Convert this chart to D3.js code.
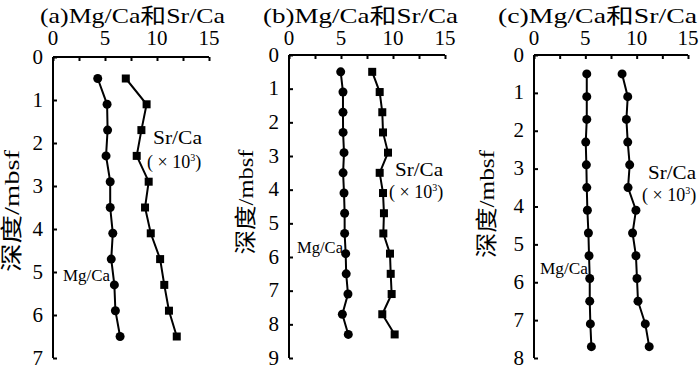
<!DOCTYPE html>
<html><head><meta charset="utf-8">
<script src="https://cdn.jsdelivr.net/npm/d3@7"></script>
<style>body{margin:0;background:#fff}svg{display:block}</style>
</head><body><svg id="c" width="700" height="368"></svg>
<script>
const panelTitles = ["(a)Mg/Ca和Sr/Ca", "(b)Mg/Ca和Sr/Ca", "(c)Mg/Ca和Sr/Ca"];
const yLabel = "深度/mbsf";
const xTickValues = [0, 2.5, 5, 7.5, 10, 12.5, 15];
const xTickLabels = [0, 5, 10, 15];
const depthMaxes = [7, 9, 8];

const depthA = [0.5, 1.1, 1.7, 2.3, 2.9, 3.5, 4.1, 4.7, 5.3, 5.9, 6.5];
const mgA = [4.3, 5.2, 5.25, 5.1, 5.5, 5.5, 5.75, 5.6, 5.9, 6.0, 6.45];
const srA = [7.0, 9.0, 8.5, 8.05, 9.2, 8.85, 9.4, 10.3, 10.7, 11.15, 11.9];

const depthB = [0.5, 1.1, 1.7, 2.3, 2.9, 3.5, 4.1, 4.7, 5.3, 5.9, 6.5, 7.1, 7.7, 8.3];
const mgB = [4.97, 5.19, 5.19, 5.2, 5.29, 5.2, 5.29, 5.35, 5.35, 5.45, 5.5, 5.67, 5.13, 5.7];
const srB = [8.0, 8.72, 8.97, 9.04, 9.52, 8.72, 9.04, 9.13, 9.07, 9.71, 9.78, 9.87, 8.97, 10.16];

const depthC = [0.5, 1.1, 1.7, 2.3, 2.9, 3.5, 4.1, 4.7, 5.3, 5.9, 6.5, 7.1, 7.7];
const mgC = [5.14, 5.14, 5.14, 5.04, 5.1, 5.14, 5.2, 5.3, 5.36, 5.43, 5.43, 5.49, 5.59];
const srC = [8.58, 9.13, 9.0, 9.13, 9.32, 9.16, 9.93, 9.6, 9.93, 10.03, 10.13, 10.84, 11.22];

const srShapes = ["square", "square", "circle"];

const FONT = "'Liberation Serif', 'Times New Roman', 'Noto Sans CJK SC', serif";

// layout (positions only)
const layout = [
  {x0: 53, x1: 209, y0: 57, y1: 358, title: [40, 225], ylab: [19, 211, 122],
   sr: [153, 202, 138], srx: [147, 206, 162], mg: [63, 110, 275]},
  {x0: 289, x1: 445, y0: 55, y1: 358, title: [263, 458], ylab: [253, 202, 105],
   sr: [395, 443, 170], srx: [389, 448, 192], mg: [297, 343, 247]},
  {x0: 534, x1: 688, y0: 55, y1: 358, title: [498, 697], ylab: [494, 204, 108],
   sr: [648, 696, 173], srx: [642, 699, 195], mg: [540, 588, 268]}
];
const data = [
  {depth: depthA, mg: mgA, sr: srA},
  {depth: depthB, mg: mgB, sr: srB},
  {depth: depthC, mg: mgC, sr: srC}
];

const svg = d3.select("#c");
svg.append("rect").attr("width", 700).attr("height", 368).attr("fill", "#fff");

function txt(sel) { return sel.append("text").attr("font-family", FONT).attr("fill", "#000"); }

layout.forEach((L, i) => {
  const g = svg.append("g");
  const x = d3.scaleLinear().domain([0, 15]).range([L.x0, L.x1]);
  const y = d3.scaleLinear().domain([0, depthMaxes[i]]).range([L.y0, L.y1]);

  // title
  txt(g).attr("x", L.title[0]).attr("y", 23)
    .attr("font-size", 21).attr("textLength", L.title[1] - L.title[0])
    .attr("lengthAdjust", "spacingAndGlyphs").text(panelTitles[i]);

  // top axis
  const xa = g.append("g").attr("transform", `translate(0,${L.y0})`)
    .call(d3.axisTop(x).tickValues(xTickValues).tickSize(-4).tickFormat(""));
  xa.selectAll(".tick text").remove();
  xa.select(".domain").attr("stroke", "#000").attr("stroke-width", 2)
    .attr("d", `M${L.x0},0H${L.x1}`);
  xa.selectAll(".tick line").attr("stroke", "#000").attr("stroke-width", 2);
  xTickLabels.forEach(d => {
    txt(g).attr("x", x(d)).attr("y", 45).attr("text-anchor", "middle")
      .attr("font-size", 21).text(d);
  });

  // left axis
  const yticks = d3.range(0, depthMaxes[i] + 1);
  const ya = g.append("g").attr("transform", `translate(${L.x0},0)`)
    .call(d3.axisLeft(y).tickValues(yticks).tickSize(-4).tickFormat(""));
  ya.selectAll(".tick text").remove();
  ya.select(".domain").attr("stroke", "#000").attr("stroke-width", 2)
    .attr("d", `M0,${L.y0}V${L.y1}`);
  ya.selectAll(".tick line").attr("stroke", "#000").attr("stroke-width", 2);
  yticks.forEach(d => {
    txt(g).attr("x", L.x0 - 10).attr("y", y(d) + 6.5).attr("text-anchor", "end")
      .attr("font-size", 21).text(d);
  });

  // y label
  txt(g).attr("transform", `translate(${L.ylab[0]},${L.ylab[1]}) rotate(-90)`)
    .attr("text-anchor", "middle").attr("font-size", 22)
    .attr("textLength", L.ylab[2]).attr("lengthAdjust", "spacingAndGlyphs").text(yLabel);

  const D = data[i];
  const line = d3.line().x(d => x(d[0])).y(d => y(d[1]));
  const mgPts = D.mg.map((v, k) => [v, D.depth[k]]);
  const srPts = D.sr.map((v, k) => [v, D.depth[k]]);
  g.append("path").attr("d", line(mgPts)).attr("fill", "none").attr("stroke", "#000").attr("stroke-width", 2);
  g.append("path").attr("d", line(srPts)).attr("fill", "none").attr("stroke", "#000").attr("stroke-width", 2);
  g.selectAll(".mgp").data(mgPts).enter().append("circle")
    .attr("cx", d => x(d[0])).attr("cy", d => y(d[1])).attr("r", 4.5).attr("fill", "#000");
  if (srShapes[i] === "square") {
    g.selectAll(".srp").data(srPts).enter().append("rect")
      .attr("x", d => x(d[0]) - 4).attr("y", d => y(d[1]) - 4)
      .attr("width", 8).attr("height", 8).attr("fill", "#000");
  } else {
    g.selectAll(".srp").data(srPts).enter().append("circle")
      .attr("cx", d => x(d[0])).attr("cy", d => y(d[1])).attr("r", 4.5).attr("fill", "#000");
  }

  // series labels
  txt(g).attr("x", L.sr[0]).attr("y", L.sr[2] + 6).attr("font-size", 18)
    .attr("textLength", L.sr[1] - L.sr[0]).attr("lengthAdjust", "spacingAndGlyphs").text("Sr/Ca");
  const t = txt(g).attr("x", L.srx[0]).attr("y", L.srx[2] + 6).attr("font-size", 18);
  t.append("tspan").text("( × 10");
  t.append("tspan").attr("font-size", 10).attr("dy", -7).text("3");
  t.append("tspan").attr("dy", 7).text(")");
  txt(g).attr("x", L.mg[0]).attr("y", L.mg[2] + 6).attr("font-size", 17)
    .attr("textLength", L.mg[1] - L.mg[0]).attr("lengthAdjust", "spacingAndGlyphs").text("Mg/Ca");
});
</script></body></html>
